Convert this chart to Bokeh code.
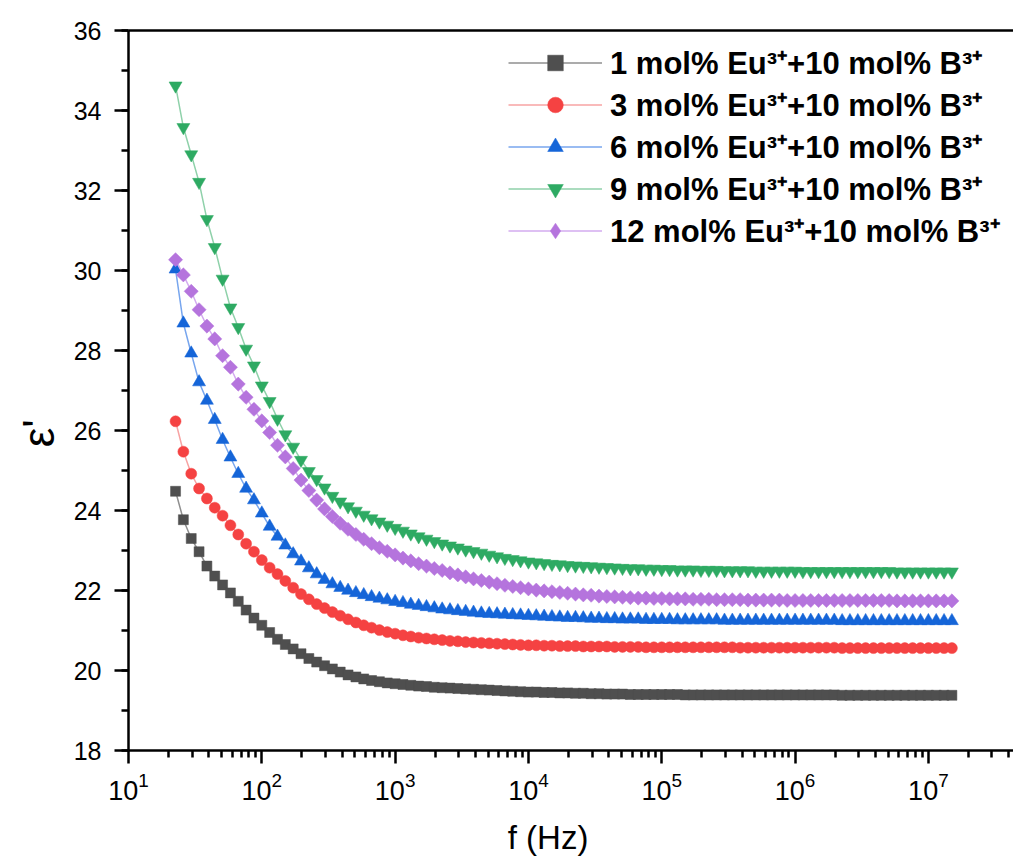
from bokeh.plotting import figure
from bokeh.models import (FixedTicker, LogTickFormatter, LogAxis, Legend, LegendItem,
                          Range1d, ColumnDataSource)
from bokeh.embed import file_html
from bokeh.resources import INLINE
import numpy as np

# ---------------- data ----------------
freq = [22.54, 25.80, 29.55, 33.83, 38.74, 44.35, 50.79, 58.15, 66.58, 76.24, 87.30,
        100.0, 114.5, 131.1, 150.1, 171.9, 196.8, 225.4, 258.0, 295.5, 338.3, 387.4, 443.5,
        507.9, 581.5, 665.8, 762.4, 873.0,
        1000, 1145, 1311, 1501, 1719, 1968, 2254, 2580, 2955, 3383, 3874, 4435, 5079, 5815,
        6658, 7624, 8730,
        10000, 11450, 13110, 15010, 17190, 19680, 22540, 25800, 29550, 33830, 38740, 44350,
        50790, 58150, 66580, 76240, 87300,
        100000, 114500, 131100, 150100, 171900, 196800, 225400, 258000, 295500, 338300,
        387400, 443500, 507900, 581500, 665800, 762400, 873000,
        1.000e6, 1.145e6, 1.311e6, 1.501e6, 1.719e6, 1.968e6, 2.254e6, 2.580e6, 2.955e6,
        3.383e6, 3.874e6, 4.435e6, 5.079e6, 5.815e6, 6.658e6, 7.624e6, 8.730e6,
        1.000e7, 1.145e7, 1.311e7, 1.501e7]

eps_1 = [24.48, 23.77, 23.30, 22.97, 22.61, 22.36, 22.14, 21.94, 21.73, 21.51,
         21.31, 21.13, 20.95, 20.78, 20.65, 20.54, 20.42, 20.30, 20.21, 20.12,
         20.04, 19.96, 19.89, 19.84, 19.79, 19.75, 19.72, 19.69, 19.67, 19.65,
         19.63, 19.61, 19.60, 19.58, 19.57, 19.56, 19.55, 19.54, 19.53, 19.52,
         19.51, 19.50, 19.49, 19.48, 19.47, 19.46, 19.46, 19.45, 19.45, 19.44,
         19.44, 19.43, 19.43, 19.42, 19.42, 19.41, 19.41, 19.41, 19.40, 19.40,
         19.40, 19.40, 19.40, 19.40, 19.40, 19.39, 19.39, 19.39, 19.39, 19.39,
         19.39, 19.39, 19.39, 19.39, 19.39, 19.39, 19.39, 19.39, 19.39, 19.39,
         19.39, 19.39, 19.39, 19.39, 19.39, 19.38, 19.38, 19.38, 19.38, 19.38,
         19.38, 19.38, 19.38, 19.38, 19.38, 19.38, 19.38, 19.38, 19.38, 19.38]

eps_3 = [26.23, 25.47, 24.92, 24.55, 24.30, 24.07, 23.87, 23.63, 23.40, 23.17,
         22.97, 22.76, 22.57, 22.41, 22.24, 22.07, 21.91, 21.78, 21.66, 21.56,
         21.46, 21.37, 21.28, 21.20, 21.13, 21.07, 21.01, 20.96, 20.92, 20.88,
         20.85, 20.82, 20.80, 20.78, 20.76, 20.74, 20.73, 20.71, 20.70, 20.69,
         20.68, 20.67, 20.66, 20.65, 20.64, 20.63, 20.63, 20.62, 20.62, 20.61,
         20.61, 20.61, 20.60, 20.60, 20.60, 20.60, 20.59, 20.59, 20.59, 20.59,
         20.58, 20.58, 20.58, 20.58, 20.58, 20.58, 20.58, 20.58, 20.58, 20.58,
         20.58, 20.58, 20.57, 20.57, 20.57, 20.57, 20.57, 20.57, 20.57, 20.57,
         20.57, 20.57, 20.57, 20.57, 20.57, 20.56, 20.56, 20.56, 20.56, 20.56,
         20.56, 20.56, 20.56, 20.56, 20.56, 20.56, 20.56, 20.56, 20.56, 20.56]

eps_6 = [30.03, 28.68, 27.93, 27.21, 26.75, 26.27, 25.77, 25.33, 24.92, 24.55,
         24.26, 23.93, 23.60, 23.35, 23.13, 22.91, 22.73, 22.56, 22.41, 22.27,
         22.16, 22.07, 22.00, 21.94, 21.89, 21.84, 21.80, 21.76, 21.72, 21.69,
         21.65, 21.62, 21.59, 21.56, 21.53, 21.51, 21.49, 21.47, 21.45, 21.43,
         21.42, 21.41, 21.40, 21.39, 21.38, 21.37, 21.36, 21.35, 21.34, 21.33,
         21.32, 21.32, 21.31, 21.30, 21.30, 21.29, 21.29, 21.28, 21.28, 21.28,
         21.27, 21.27, 21.27, 21.27, 21.26, 21.26, 21.26, 21.26, 21.26, 21.26,
         21.25, 21.25, 21.25, 21.25, 21.25, 21.25, 21.25, 21.25, 21.25, 21.25,
         21.25, 21.25, 21.25, 21.25, 21.25, 21.24, 21.24, 21.24, 21.24, 21.24,
         21.24, 21.24, 21.24, 21.24, 21.24, 21.24, 21.24, 21.24, 21.24, 21.24]

eps_9 = [34.62, 33.58, 32.90, 32.21, 31.28, 30.58, 29.79, 29.07, 28.58, 28.04,
         27.62, 27.12, 26.73, 26.29, 25.90, 25.59, 25.26, 24.98, 24.78, 24.57,
         24.36, 24.22, 24.10, 23.99, 23.89, 23.80, 23.72, 23.64, 23.56, 23.49,
         23.42, 23.35, 23.29, 23.23, 23.17, 23.12, 23.07, 23.02, 22.98, 22.94,
         22.89, 22.85, 22.81, 22.78, 22.75, 22.72, 22.70, 22.68, 22.66, 22.65,
         22.63, 22.62, 22.61, 22.60, 22.59, 22.58, 22.57, 22.56, 22.55, 22.55,
         22.54, 22.54, 22.53, 22.53, 22.52, 22.52, 22.52, 22.51, 22.51, 22.51,
         22.50, 22.50, 22.50, 22.50, 22.49, 22.49, 22.49, 22.49, 22.49, 22.49,
         22.48, 22.48, 22.48, 22.48, 22.48, 22.48, 22.48, 22.48, 22.48, 22.48,
         22.48, 22.48, 22.47, 22.47, 22.47, 22.47, 22.47, 22.47, 22.47, 22.47]

eps_12 = [30.27, 29.89, 29.48, 29.02, 28.61, 28.29, 27.87, 27.58, 27.16, 26.83,
          26.53, 26.24, 25.95, 25.63, 25.34, 25.05, 24.76, 24.50, 24.26, 24.04,
          23.85, 23.68, 23.53, 23.40, 23.28, 23.17, 23.07, 22.98, 22.89, 22.81,
          22.74, 22.67, 22.61, 22.55, 22.50, 22.44, 22.39, 22.34, 22.29, 22.25,
          22.21, 22.17, 22.13, 22.10, 22.07, 22.04, 22.01, 21.99, 21.97, 21.95,
          21.93, 21.91, 21.89, 21.88, 21.86, 21.85, 21.84, 21.83, 21.82, 21.81,
          21.81, 21.80, 21.80, 21.79, 21.79, 21.79, 21.78, 21.78, 21.78, 21.77,
          21.77, 21.77, 21.77, 21.76, 21.76, 21.76, 21.76, 21.76, 21.75, 21.75,
          21.75, 21.75, 21.75, 21.75, 21.75, 21.75, 21.75, 21.75, 21.75, 21.75,
          21.75, 21.75, 21.74, 21.74, 21.74, 21.74, 21.74, 21.74, 21.74, 21.74]

labels = ["1 mol% Eu³⁺+10 mol% B³⁺", "3 mol% Eu³⁺+10 mol% B³⁺", "6 mol% Eu³⁺+10 mol% B³⁺",
          "9 mol% Eu³⁺+10 mol% B³⁺", "12 mol% Eu³⁺+10 mol% B³⁺"]
series = [eps_1, eps_3, eps_6, eps_9, eps_12]

x_major = [1e1, 1e2, 1e3, 1e4, 1e5, 1e6, 1e7]
y_major = [18, 20, 22, 24, 26, 28, 30, 32, 34, 36]

# ---------------- styles ----------------
marker_colors = ["#4f4f4f", "#f54242", "#1565d8", "#2eaa63", "#b574dd"]
line_colors = ["#8f8f8f", "#f7a3a3", "#78a6ee", "#8fd1aa", "#d3abef"]
markers = ["square", "circle", "triangle", "inverted_triangle", "square"]
legend_markers = ["square", "circle", "triangle", "inverted_triangle", "diamond"]
sizes = [10, 11, 13, 13, 10]
legend_sizes = [12, 13, 15, 15, 19]
angles = [0, 0, 0, 0, np.pi / 4]

FONT = "Liberation Sans"
NB = "\u00a0"

p = figure(width=1013, height=859, x_axis_type="log",
           x_range=Range1d(10, 4.35e7), y_range=Range1d(18, 36),
           output_backend="svg", toolbar_location=None,
           min_border_left=128, min_border_right=0, min_border_top=30,
           min_border_bottom=109)
p.background_fill_color = "white"
p.border_fill_color = "white"
p.outline_line_color = None
p.xgrid.visible = False
p.ygrid.visible = False

minor_x = []
for d in range(1, 8):
    for m in range(2, 10):
        v = m * 10 ** d
        if v < 4.35e7:
            minor_x.append(v)

p.xaxis.ticker = FixedTicker(ticks=x_major, minor_ticks=minor_x)
p.xaxis.formatter = LogTickFormatter()
p.yaxis.ticker = FixedTicker(ticks=y_major, minor_ticks=list(range(18, 37)))

for ax in (p.xaxis[0], p.yaxis[0]):
    ax.axis_line_width = 2.5
    ax.axis_line_color = "black"
    ax.major_tick_line_width = 2.5
    ax.minor_tick_line_width = 2.5
    ax.major_tick_in = 0
    ax.minor_tick_in = 0
    ax.major_tick_line_color = "black"
    ax.minor_tick_line_color = "black"
    ax.major_label_text_color = "black"
    ax.axis_label_text_color = "black"
    ax.axis_label_text_font_style = "normal"

p.xaxis.major_tick_out = 13
p.xaxis.minor_tick_out = 7
p.xaxis.major_label_text_font = FONT
p.xaxis.major_label_text_font_size = "27px"
p.xaxis.major_label_standoff = 8
p.xaxis.axis_label = "f (Hz)" + NB * 5
p.xaxis.axis_label_text_font = FONT
p.xaxis.axis_label_text_font_size = "33px"
p.xaxis.axis_label_standoff = 16

p.yaxis.major_tick_out = 14
p.yaxis.minor_tick_out = 7
p.yaxis.major_label_text_font = FONT
p.yaxis.major_label_text_font_size = "25px"
p.yaxis.major_label_standoff = 13
p.yaxis.axis_label = "ε'" + NB * 7
p.yaxis.axis_label_text_font = FONT
p.yaxis.axis_label_text_font_size = "44px"
p.yaxis.axis_label_standoff = 8

top_axis = LogAxis(ticker=FixedTicker(ticks=[]), major_tick_out=0, minor_tick_out=0,
                   major_tick_in=0, minor_tick_in=0, major_label_text_font_size="0px",
                   major_label_standoff=0, axis_line_width=2.5, axis_line_color="black")
p.add_layout(top_axis, "above")

items = []
for ys, lab, mc, lc, mk, lmk, sz, lsz, ang in zip(series, labels, marker_colors, line_colors,
                                                  markers, legend_markers, sizes,
                                                  legend_sizes, angles):
    src = ColumnDataSource(data=dict(x=freq, y=ys))
    r1 = p.line("x", "y", source=src, line_color=lc, line_width=1.5)
    r2 = p.scatter("x", "y", source=src, marker=mk, size=sz, angle=ang, fill_color=mc,
                   line_color=mc, line_width=0.5)
    # key glyph for the legend only (hidden on the plot itself)
    r3 = p.scatter("x", "y", source=src, marker=lmk, size=lsz, fill_color=mc,
                   line_color=mc, line_width=0.5, visible=False)
    items.append(LegendItem(label=lab, renderers=[r1, r3]))

legend = Legend(items=items, location=(380, 499), glyph_width=94, glyph_height=39,
                spacing=0, padding=0, margin=0, label_standoff=8, label_height=39,
                border_line_color=None, background_fill_alpha=0,
                label_text_font=FONT, label_text_font_style="bold",
                label_text_font_size="31px", label_text_color="black")
p.add_layout(legend)

open("out.html", "w").write(file_html(p, INLINE))
